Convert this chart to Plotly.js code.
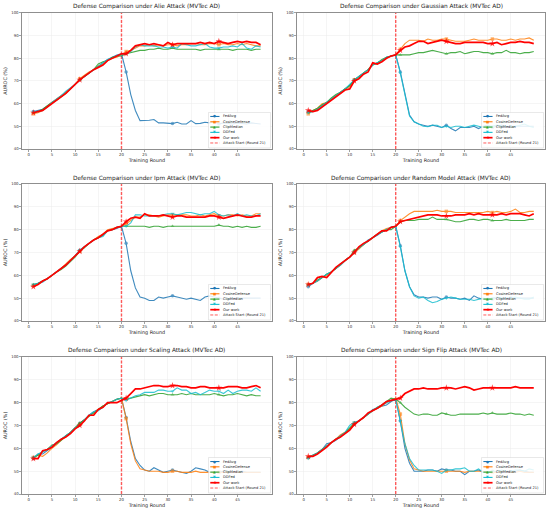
<!DOCTYPE html>
<html>
<head>
<meta charset="utf-8">
<script src="https://cdn.plot.ly/plotly-3.0.1.min.js"></script>
<style>html,body{margin:0;padding:0;background:#fff;}#chart{width:550px;height:513px;}</style>
</head>
<body>
<div id="chart"></div>
<script>
const rounds = [1,2,3,4,5,6,7,8,9,10,11,12,13,14,15,16,17,18,19,20,21,22,23,24,25,26,27,28,29,30,31,32,33,34,35,36,37,38,39,40,41,42,43,44,45,46,47,48,49,50];
const xTickVals = [0,5,10,15,20,25,30,35,40,45];
const yTickVals = [40,50,60,70,80,90,100];
const Y_RANGE = [40, 100];
const ATTACK_ROUND = 20;

const seriesNames = ['FedAvg','CosineDefense','ClipMedian','DDFed','Our work'];
const attackLineLabel = 'Attack Start (Round 21)';
const attackTitles = [
  'Defense Comparison under Alie Attack (MVTec AD)',
  'Defense Comparison under Gaussian Attack (MVTec AD)',
  'Defense Comparison under Ipm Attack (MVTec AD)',
  'Defense Comparison under Random Model Attack (MVTec AD)',
  'Defense Comparison under Scaling Attack (MVTec AD)',
  'Defense Comparison under Sign Flip Attack (MVTec AD)'
];

// Alie
const alieFedAvg = [56.5,57,57.5,59,60.5,62,63.5,65,66.5,68.5,70.5,72,73.5,75,76.5,78,79.5,80.5,81.5,82,74,64,57,52.5,52.5,52.7,53,51.5,51.5,51.5,51.2,51.8,51,51,52.5,51.2,51.3,51.8,51.5,52,51,51.5,51.3,51,51.5,51.2,51,51.5,51.2,51];
const alieCosine = [55.5,56,57,59,60.5,62,63.5,65,66.5,68.5,71,72.5,74,75,76.5,77.5,79,80,80.5,81.5,83,83.5,84.5,85.5,85.5,86,85.5,86,85.5,86,86,85.5,86,86,86.5,86.5,86,86,86.5,86.5,86,86.5,86,86,86.5,86,86.5,86,85.5,85.5];
const alieClip = [56,56.5,57.5,59,60.5,61.5,63,64.5,66.5,68.5,70.5,72,73.5,75,77.5,78.5,79,80.5,81,81,82,82.5,83,83.5,83.5,84,84,84.5,84,84,84.5,84,84,84,84,84,83.5,84,84,84,84,84,84,83.5,84,84,84,83.5,84,84];
const alieDDFed = [56.5,56.5,57,58.5,60.5,62,63.5,65.5,67,68.5,70.5,72,73.5,75,76.5,78,79.5,80,81,81.5,82,83,85,86,85.5,85.5,85.5,85,85,84.5,85,84.5,86.5,86,85.5,85.5,86,86.5,85,84.5,84.5,85,85,85.5,85,86.5,84.5,84,85.5,85];
const alieOur = [56,56.5,57,58.5,60,61.5,63,64.5,66.5,68.5,70.5,72,73.5,75,76,77,79,80,81,82,82,83.5,85.5,86,86.5,86,86.5,86,85.5,87,86,86.5,86.5,86.5,86.5,86.5,87,86.5,87,86.5,87.5,87,86.5,87,87.5,87,87.5,87,87,86];

// Gaussian
const gaussFedAvg = [56.5,56.5,57.5,59,60.5,62,63.5,65,66.5,68,70.5,72,73.5,75,77,78,79,80.5,81,81.5,74,64,55,52,51,50.5,50,50.5,50,49.5,50.5,49,48,49.5,49.5,49.5,50,49,50,50.5,49.5,50,50.5,50,49.5,50,50,50,50,50];
const gaussCosine = [55.5,57,58,60,60.5,62,63.5,65,66.5,67.5,70.5,71.5,73.5,75,77.5,77.5,79,80,81,81.5,84,86.5,88,88,88,87.5,88.5,88,88,88.5,88.5,88,87.5,87.5,87.5,88,88.5,88,88,88,88.5,88.5,88,88,88.5,88,88.5,88.5,89,88];
const gaussClip = [56,57,58,59.5,60.5,62.5,64,65,66.5,68,70.5,72,73.5,75,77,78,79.5,80.5,81,81.5,81.5,81.5,81.5,82,82.5,82.5,83,83.5,83,82.5,82,82.5,82.5,83,82,82.5,83,83,82.5,82.5,82,82.5,82.5,83.5,82.5,82.5,82,82.5,82.5,83];
const gaussDDFed = [56,56.5,57.5,59,60.5,62,63.5,65,66.5,68.5,70.5,72,73.5,75,77,78,79,80.5,81,81.5,73.5,63.5,54.5,52,51,50,49.8,50.5,50.5,49.5,50,49.5,50,50,49.5,50,50.5,50,49.5,50,50,50.5,50,50,50,50,50.5,51,50,49.5];
const gaussOur = [57,56.5,57,58.5,60,61.5,63,64.5,66,66.5,70,71,73,74,78,77.5,78.5,80,81,81.5,83.5,85,85.5,86.5,87.5,87.5,86.5,87,87.5,88,87.5,87,86.5,86.5,87,87,87,87,87,86.5,86.5,87,86,86.5,87,87,87.5,87,87,86.5];

// Ipm
const ipmFedAvg = [55.5,56.5,57.5,58.5,60,61.5,63,64.5,66.5,68.5,71,72.5,74,75.5,76.5,77.5,79.5,80,80.5,81.5,74,62,54.5,50.5,50,49,49,50.5,50,50.5,51,50.5,50,49.5,50,49.5,49,50.5,51,50.5,50,49.5,49.5,50,50,50,50,50,50,50];
const ipmCosine = [55.5,56,57.5,58.5,60,61.5,63,65,67,68.5,70.5,72.5,74,75.5,77,78,80,80.5,81,81.5,82.5,84,85.5,85.5,86.5,86.5,86,85.5,86,86.5,86.5,86.5,86.5,86.5,86,86,86.5,86,86.5,87,86,86,86.5,86.5,86,86.5,86,86,87,87];
const ipmClip = [56,56.5,57.5,58.5,60,61.5,62.5,64,66,68,70.5,72,74,75.5,76.5,77.5,79.5,80,81,81.5,81.5,81.5,81.5,81.5,81.5,81,81.5,81.5,81,81.5,81.5,81.5,81.5,81.5,81.5,81.5,81.5,81.5,81.5,81.5,82,81.5,81.5,81,81.5,81,81.5,81,81,81.5];
const ipmDDFed = [56,56.5,57,58.5,60,61.5,63,64.5,66.5,68.5,71,72.5,74,75.5,76.5,77,79.5,80,81,81.5,81.5,83,86.5,86.5,86,86,86,86,86.5,87,87,86.5,87,87.5,87.5,87,86.5,87,87,88,86.5,86,86.5,86,87,86,86.5,86,86,87];
const ipmOur = [55,56,57.5,58.5,60,61.5,63,64.5,66.5,68.5,70.5,72.5,74,75.5,76.5,78,79.5,80,81,81.5,83.5,85,85.5,85,87,86,86,86,86.5,86,85.5,86,86,85.5,85.5,85.5,85.5,85.5,86,86,85.5,85,85.5,86,86.5,86,85.5,85.5,86,86];

// Random Model
const randFedAvg = [55,56.5,57.5,59,60.5,61.5,63,64.5,66.5,68,70,72,73.5,75.5,76.5,77.5,79,80,81,81.5,73,62,55,51.5,50.5,50.5,50,50.5,50.5,49.5,50.5,50,50,49.5,50,49,51,50,49.5,50,49.5,50,50,50,50.5,50,50,50,50,50];
const randCosine = [56,56.5,57.5,59,60,61.5,63,64.5,66.5,68,70,71.5,73.5,75,76.5,78,79.5,80.5,81,81.5,84,85.5,87,88,88,88,88,88,88.5,88,88,88,87.5,87.5,87.5,87.5,87.5,87.5,87.5,88,87.5,88,87.5,87.5,88,89,87.5,87.5,88,88];
const randClip = [56,56.5,58,59,60.5,61.5,63,65,66.5,68,71,72,73.5,75,76.5,78,79,80,80,81.5,83.5,84,84,84,84.5,84.5,84.5,85.5,84.5,84.5,84.5,84,83.5,83.5,84,84.5,84.5,84,84.5,84.5,84,84,84,84.5,84,84,84,84,84.5,84.5];
const randDDFed = [55.5,56.5,57.5,59,60.5,61.5,63,64.5,66.5,68,70,72,73.5,75,76.5,78,79,80,81,81.5,72.5,62,55,51,50,50.5,49,48,48.5,49.5,50,50.5,50,49.5,49.5,49.5,49,49.5,50,49.5,50,50.5,50,50,50,50.5,50,49.5,49.5,50.5];
const randOur = [56,56.5,59,59.5,59,61.5,63.5,65,66.5,68,70,72.5,74,75,76.5,78,79.5,79.5,81,81.5,83.5,84,84.5,85,85.5,86,86.5,86.5,86.5,86,86,86,86.5,86.5,86.5,87,86.5,87,86.5,86.5,86.5,86.5,87,86.5,87,87,87,86.5,86,87];

// Scaling
const scaleFedAvg = [55.5,57.5,57.5,59,60.5,62,64,65.5,67,69,71,72.5,74.5,76,77,78.5,79.5,80.5,81.5,82,73.5,63,55.5,52.5,50.5,50,51.5,50.5,49.5,50,50.5,50,49.5,49,50,51.5,51,50.5,49.5,49.5,49.5,50,49.5,49.5,49.5,50,49.5,49.5,49.5,49.5];
const scaleCosine = [56,57,56.5,58,60,61.5,63.5,65,67,69,70.5,72.5,74,75.5,77,78.5,79.5,80.5,81.5,82,73,62,54.5,51,50.5,50,50,50,49.5,49.5,50,50,49.5,49.5,49.5,50,49.5,49.5,49.5,49.5,49.5,49.5,49.5,49.5,49.5,49.5,49.5,49.5,49.5,49.5];
const scaleClip = [56,57,58.5,59.5,61.5,62,63.5,65.5,67,69,71,72.5,74,75.5,77,78.5,79.5,80.5,81.5,82,81.5,82,82.5,83,83.5,83,83.5,84,84,83.5,83.5,83.5,84,83.5,84,83.5,83.5,83.5,83.5,84,83.5,83,83.5,83.5,84,83.5,83,83.5,83,83];
const scaleDDFed = [56,57.5,58.5,59.5,61,62.5,64,65.5,67,69,70,72.5,74.5,76,76.5,78,80,80.5,81.5,82,81,82,83,83.5,84.5,84.5,84.5,85.5,85.5,85,85,86.5,85.5,85.5,84,84.5,83.5,84.5,85.5,85,85,84,85.5,84,85,85.5,85.5,85,86.5,85];
const scaleOur = [55.5,55.5,59,59.5,60.5,62.5,64,65,66.5,68.5,70,72,74.5,74.5,77,78,80,80,80,81,82,84,86,86,86.5,87,87.5,87.5,87,87,87.5,87.5,87,87,86.5,86.5,87,87,86.5,86.5,86.5,86.5,87,87,87,86.5,86.5,87,87.5,86.5];

// Sign Flip
const signFedAvg = [56,57,58,59.5,62,62.5,63.5,65,67,68.5,70.5,72,73.5,75,77,77.5,78.5,79,80.5,81.5,72,60,53.5,50,50,50,50.5,50.5,50,51,50.5,50.5,50,50,48.5,50,50,50.5,49.5,49.5,50,49.5,50,50,50,50,50.5,50,49.5,49.5];
const signCosine = [56,57,58,59.5,61,62.5,64,66,67,68.5,71,72,73.5,75,76.5,77.5,78.5,80,81,82,75,62,55,51,50.5,50,50,50,50,50,50,50,50,50,49.5,50,50,50,50,49.5,49.5,49.5,50,50,49.5,49.5,50,49.5,49.5,49.5];
const signClip = [56,57,58,59.5,61,62.5,64,65.5,67,69,71,72,73.5,75,76.5,78,79,80.5,82,81.5,80,78,76.5,75,74.5,75,75,74.5,74.5,75.5,75,74.5,74.5,75,75,75,75,75,75.5,75,75.5,75,75,75,75.5,75,75,74.5,75,74.5];
const signDDFed = [55.5,57,58,59.5,61,62.5,64,65.5,67,70,71.5,72,73.5,75,76.5,78,79,80,81,81.5,72,62,55.5,52.5,50.5,50.5,50.5,50.5,50,49,50.5,50.5,51,51,51.5,50,50,51,49.5,49.5,50,50,50.5,50,50,50.5,50.5,50,51,50.5];
const signOur = [56.5,56.5,57.5,59,60.5,62.5,64,65,66.5,68,70.5,72,73.5,75.5,76.5,77.5,79,80.5,81,81.5,82,84,85,86,86,86.5,86,86,86,86.5,86.5,86.5,86,86.5,87,86.5,85.5,86,86.5,86.5,86.5,86.5,86.5,86.5,86.5,87,86.5,86.5,86.5,86.5];

const panels = [
  [alieFedAvg, alieCosine, alieClip, alieDDFed, alieOur],
  [gaussFedAvg, gaussCosine, gaussClip, gaussDDFed, gaussOur],
  [ipmFedAvg, ipmCosine, ipmClip, ipmDDFed, ipmOur],
  [randFedAvg, randCosine, randClip, randDDFed, randOur],
  [scaleFedAvg, scaleCosine, scaleClip, scaleDDFed, scaleOur],
  [signFedAvg, signCosine, signClip, signDDFed, signOur]
];

// styling
const seriesColors = ['#1f77b4','#ff7f0e','#2ca02c','#17becf','#ff0000'];
const seriesSymbols = ['circle','square','triangle-up','triangle-down','star'];
const legendGlyphs = ['●','■','▲','▼','★'];
const seriesWidths = [1.1,1.1,1.1,1.1,1.7];
const seriesOpacity = [0.85,0.85,0.85,0.85,1];
const markerSizes = [3.5,3.5,3.5,3.5,5];
const MARK_EVERY = 10;
const FONT = 'DejaVu Sans, sans-serif';
const ATTACK_COLOR = '#ff3333';

const colX = [[0.04,0.4945],[0.54,0.991]];
const rowY = [[0.7096,0.9747],[0.3743,0.6413],[0.0370,0.3041]];
const W = 550, H = 513;

const traces = [];
const layout = {
  width: W, height: H,
  margin: {l:0, r:0, t:0, b:0},
  paper_bgcolor: '#ffffff', plot_bgcolor: '#ffffff',
  showlegend: false,
  font: {family: FONT, color: '#222', size: 4},
  shapes: [], annotations: []
};

panels.forEach((series, p) => {
  const row = Math.floor(p/2), col = p % 2;
  const sfx = p === 0 ? '' : String(p+1);
  const xa = 'x' + sfx, ya = 'y' + sfx;
  const xdom = colX[col], ydom = rowY[row];
  const pw = (xdom[1]-xdom[0]) * W, ph = (ydom[1]-ydom[0]) * H;

  // attack start vertical line (axvline at ATTACK_ROUND spanning the y range)
  traces.push({
    type: 'scatter', mode: 'lines',
    x: [ATTACK_ROUND, ATTACK_ROUND], y: Y_RANGE, xaxis: xa, yaxis: ya,
    name: attackLineLabel,
    line: {color: ATTACK_COLOR, width: 1.4, dash: '3px,1.5px'},
    opacity: 0.8,
    hoverinfo: 'skip'
  });

  series.forEach((vals, s) => {
    traces.push({
      type: 'scatter', mode: 'lines+markers',
      x: rounds, y: vals, xaxis: xa, yaxis: ya,
      name: seriesNames[s],
      line: {color: seriesColors[s], width: seriesWidths[s]},
      opacity: seriesOpacity[s],
      marker: {symbol: seriesSymbols[s], color: seriesColors[s],
               size: rounds.map((r, i) => (i % MARK_EVERY === 0 ? markerSizes[s] : 0)),
               line: {width: 0}},
      hoverinfo: 'skip'
    });
  });

  const axCommon = {
    showline: true, mirror: true, linecolor: '#444', linewidth: 0.6,
    ticks: 'outside', ticklen: 2, tickwidth: 0.5, tickcolor: '#444',
    showgrid: true, gridcolor: '#ececec', gridwidth: 0.5, zeroline: false,
    tickfont: {family: FONT, size: 3.9, color: '#333'}
  };
  layout['xaxis' + sfx] = Object.assign({}, axCommon, {
    domain: xdom, anchor: ya, range: [-1.45, 52.45],
    tickmode: 'array', tickvals: xTickVals,
    title: {text: 'Training Round', font: {family: FONT, size: 4.9, color: '#222'}, standoff: 2}
  });
  layout['yaxis' + sfx] = Object.assign({}, axCommon, {
    domain: ydom, anchor: xa, range: Y_RANGE,
    tickmode: 'array', tickvals: yTickVals,
    title: {text: 'AUROC (%)', font: {family: FONT, size: 4.9, color: '#222'}, standoff: 3}
  });

  // title
  layout.annotations.push({
    xref: xa + ' domain', yref: ya + ' domain', x: 0.5, y: 1,
    xanchor: 'center', yanchor: 'bottom', yshift: 0.5, showarrow: false,
    text: attackTitles[p], font: {family: FONT, size: 5.8, color: '#222'}
  });

  // legend (drawn manually, pixel offsets converted to domain fractions)
  const boxW = 62, boxH = 35.5, insetR = 1.5, insetB = 1;
  const bx0 = pw - insetR - boxW, bx1 = pw - insetR;
  const by1 = ph - insetB, by0 = by1 - boxH; // from top
  const fx = v => v / pw, fy = v => 1 - v / ph;
  layout.shapes.push({
    type: 'rect', xref: xa + ' domain', yref: ya + ' domain', layer: 'above',
    x0: fx(bx0), x1: fx(bx1), y0: fy(by1), y1: fy(by0),
    fillcolor: 'rgba(255,255,255,0.85)', line: {color: '#d0d0d0', width: 0.5}
  });
  const labels = seriesNames.concat([attackLineLabel]);
  labels.forEach((lab, k) => {
    const cy = by0 + 4 + k * 5.3;
    const sx0 = bx0 + 1.8, sx1 = bx0 + 11, tx = bx0 + 13.5;
    if (k < 5) {
      layout.shapes.push({
        type: 'line', xref: xa + ' domain', yref: ya + ' domain', layer: 'above',
        x0: fx(sx0), x1: fx(sx1), y0: fy(cy), y1: fy(cy),
        line: {color: seriesColors[k], width: seriesWidths[k]}
      });
      layout.annotations.push({
        xref: xa + ' domain', yref: ya + ' domain', x: fx((sx0+sx1)/2), y: fy(cy),
        xanchor: 'center', yanchor: 'middle', showarrow: false, borderpad: 0,
        text: legendGlyphs[k], font: {family: FONT, size: k === 4 ? 4.6 : 3.4, color: seriesColors[k]}
      });
    } else {
      layout.shapes.push({
        type: 'line', xref: xa + ' domain', yref: ya + ' domain', layer: 'above',
        x0: fx(sx0), x1: fx(sx1), y0: fy(cy), y1: fy(cy),
        line: {color: ATTACK_COLOR, width: 1, dash: '3px,1.5px'}, opacity: 0.8
      });
    }
    layout.annotations.push({
      xref: xa + ' domain', yref: ya + ' domain', x: fx(tx), y: fy(cy),
      xanchor: 'left', yanchor: 'middle', showarrow: false, borderpad: 0,
      text: lab, font: {family: FONT, size: 3.6, color: '#222'}
    });
  });
});

Plotly.newPlot('chart', traces, layout, {staticPlot: true, displayModeBar: false});
</script>
</body>
</html>
